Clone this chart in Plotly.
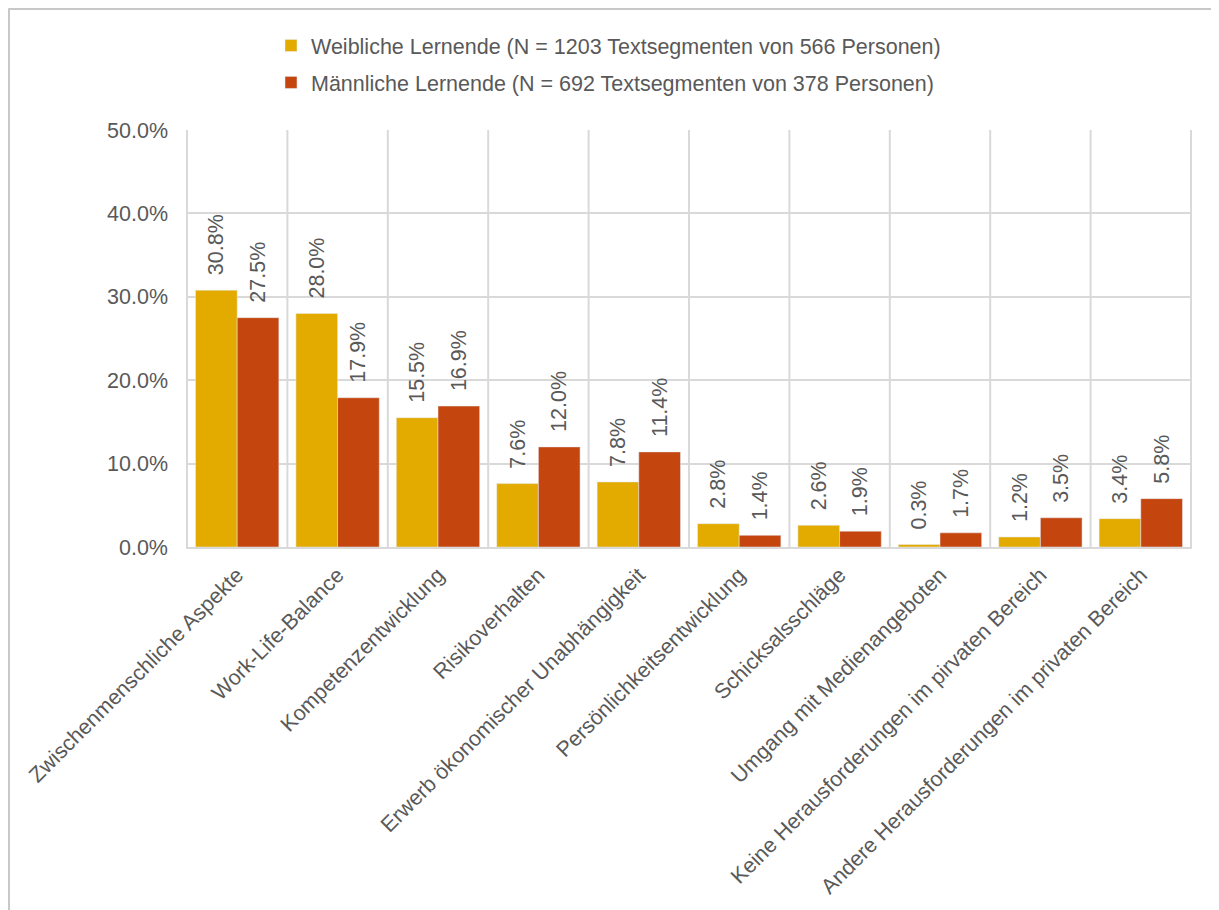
import plotly.graph_objects as go

categories = [
    "Zwischenmenschliche Aspekte",
    "Work-Life-Balance",
    "Kompetenzentwicklung",
    "Risikoverhalten",
    "Erwerb ökonomischer Unabhängigkeit",
    "Persönlichkeitsentwicklung",
    "Schicksalsschläge",
    "Umgang mit Medienangeboten",
    "Keine Herausforderungen im pirvaten Bereich",
    "Andere Herausforderungen im privaten Bereich",
]
weiblich = [0.308, 0.280, 0.155, 0.076, 0.078, 0.028, 0.026, 0.003, 0.012, 0.034]
maennlich = [0.275, 0.179, 0.169, 0.120, 0.114, 0.014, 0.019, 0.017, 0.035, 0.058]
name_w = "Weibliche Lernende (N = 1203 Textsegmenten von 566 Personen)"
name_m = "Männliche Lernende (N = 692 Textsegmenten von 378 Personen)"
y_ticks = [0, 0.1, 0.2, 0.3, 0.4, 0.5]

OFF = 8  # page body margin
W, H = 1219 - OFF, 910 - OFF
L, R, T, B = 186 - OFF, 27, 130 - OFF, 363
FONT = "Liberation Sans, Arial, sans-serif"
GREY = "#595959"
GRID = "#D9D9D9"
FS = 21.5
PAD = "\u00a0\u00a0"  # small gap between bar top and rotated label


def labels(vals):
    return [f"{PAD}{v*100:.1f}%" for v in vals]


fig = go.Figure()
fig.add_trace(go.Bar(
    x=categories, y=weiblich, name=name_w, marker_color="#E3AA00",
    text=labels(weiblich), textposition="outside",
    textangle=-90, textfont=dict(size=FS, color=GREY, family=FONT),
    constraintext="none", cliponaxis=False, legendgroup="w",
))
fig.add_trace(go.Bar(
    x=categories, y=maennlich, name=name_m, marker_color="#C5450E",
    text=labels(maennlich), textposition="outside",
    textangle=-90, textfont=dict(size=FS, color=GREY, family=FONT),
    constraintext="none", cliponaxis=False, legendgroup="m",
))

shapes = []
for i in range(len(categories) + 1):
    shapes.append(dict(type="line", xref="x", yref="y", x0=i - 0.5, x1=i - 0.5,
                       y0=0, y1=0.5, line=dict(color=GRID, width=2), layer="below"))
pw, ph = W - L - R, H - T - B
# outer chart frame (left and top edges)
fx = (0.5 - L) / pw
fy = (H - B - 0.5) / ph
shapes.append(dict(type="line", xref="paper", yref="paper", x0=fx, x1=fx, y0=fy, y1=-(B + 10) / ph,
                   line=dict(color="#C8C8C8", width=3)))
shapes.append(dict(type="line", xref="paper", yref="paper", x0=fx, x1=(W - L + 10) / pw, y0=fy, y1=fy,
                   line=dict(color="#C8C8C8", width=3)))

fig.update_layout(
    width=W, height=H,
    margin=dict(l=L, r=R, t=T, b=B, autoexpand=False),
    paper_bgcolor="white", plot_bgcolor="white",
    font=dict(family=FONT, color=GREY, size=FS),
    barmode="group", bargap=0.17, bargroupgap=0,
    shapes=shapes,
    legend=dict(x=(271 - OFF - L) / pw, y=(H - B - (25 - OFF)) / ph, xanchor="left", yanchor="top",
                font=dict(size=FS, color=GREY, family=FONT), bgcolor="rgba(0,0,0,0)",
                traceorder="grouped", tracegroupgap=6, itemclick=False),
    xaxis=dict(tickangle=-45, showgrid=False, showline=True, linecolor=GRID, linewidth=2,
               ticks="", tickfont=dict(size=FS, color=GREY, family=FONT), automargin=False,
               ticklabelstandoff=5),
    yaxis=dict(range=[0, 0.5], tickvals=y_ticks, tickformat=".1%", showgrid=True,
               gridcolor=GRID, gridwidth=2, zeroline=False, showline=False, ticks="",
               tickfont=dict(size=FS, color=GREY, family=FONT), automargin=False,
               ticklabelstandoff=17),
)

fig.write_html("out.html")
